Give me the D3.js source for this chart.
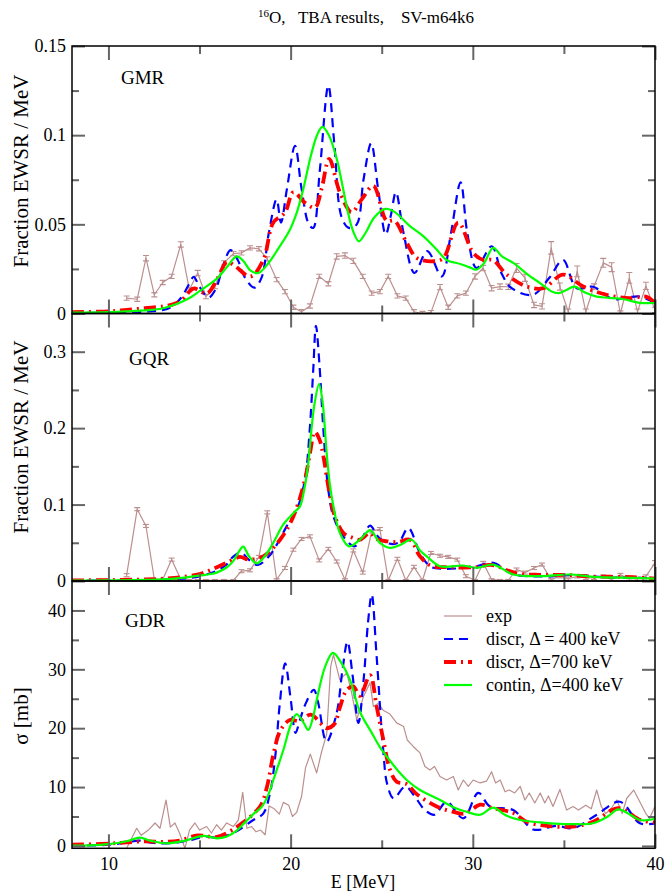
<!DOCTYPE html>
<html><head><meta charset="utf-8">
<script src="https://cdn.jsdelivr.net/npm/d3@7"></script>
<style>
body{margin:0;background:#fff}
text{font-family:"Liberation Serif","Times New Roman",serif;fill:#000}
</style>
</head><body>
<svg id="c" width="666" height="893"></svg>
<script>
// ---------- DATA ----------
const xTickValues = [10,20,30,40];
const xMinorValues = [15,25,35];
const xTickLabels = ["10","20","30","40"];

const gmrYMajor = [0,0.05,0.1,0.15];
const gmrYLabels = ["0","0.05","0.1","0.15"];
const gmrYMinor = [0.025,0.075,0.125];
const gqrYMajor = [0,0.1,0.2,0.3];
const gqrYLabels = ["0","0.1","0.2","0.3"];
const gqrYMinor = [0.05,0.15,0.25];
const gdrYMajor = [0,10,20,30,40];
const gdrYLabels = ["0","10","20","30","40"];
const gdrYMinor = [5,15,25,35];

const legendLabels = ["exp","discr, \u0394 = 400 keV","discr, \u0394=700 keV","contin, \u0394=400 keV"];

// experimental energy grid (GMR, GQR)
const expGridE = [11.0,11.58,12.06,12.52,12.98,13.47,13.97,14.44,14.9,15.35,15.85,16.34,16.86,17.3,17.77,18.26,18.72,19.23,19.69,20.15,20.6,21.06,21.57,22.07,22.53,22.98,23.44,23.96,24.45,24.9,25.36,25.86,26.32,26.77,27.24,27.7,28.2,28.65,29.15,29.62,30.12,30.57,31.03,31.49,31.95,32.4,32.86,33.36,33.8,34.3,34.78,35.24,35.73,36.2,36.65,37.16,37.62,38.1,38.59,39.04,39.5,40.0];

// GMR
const gmrExpV = [0.0086,0.008,0.031,0.0105,0.0174,0.0208,0.0387,0.0133,0.0227,0.0095,0.0151,0.0284,0.0336,0.034,0.0368,0.0363,0.0306,0.019,0.0123,0.0035,0.001,0.0042,0.0208,0.0167,0.032,0.0325,0.0295,0.0208,0.0114,0.0123,0.0208,0.0099,0.0086,0.001,0.0,0.0005,0.0148,0.0035,0.0099,0.0114,0.0208,0.0255,0.0142,0.0151,0.015,0.0255,0.02,0.0048,0.004,0.0368,0.0151,0.001,0.0236,0.001,0.0151,0.0284,0.026,0.0,0.02,0.001,0.0155,0.002];
const gmrExpErr = [0.0012,0.0012,0.0015,0.0012,0.0012,0.0012,0.0015,0.0012,0.0015,0.0012,0.0012,0.0012,0.0012,0.0012,0.0012,0.0012,0.0012,0.0012,0.0012,0.0012,0.0012,0.0012,0.0012,0.0012,0.0015,0.0015,0.0015,0.0012,0.0012,0.0012,0.0012,0.0012,0.0012,0.0012,0.0012,0.0012,0.0015,0.0012,0.0012,0.0012,0.0015,0.0015,0.0015,0.0015,0.0015,0.0025,0.002,0.0015,0.0015,0.0035,0.002,0.0015,0.003,0.0015,0.0015,0.0025,0.0025,0.0015,0.003,0.0015,0.002,0.0015];
const gmrD400E = [8,10,12,13,13.5,14,14.4,14.68,15.0,15.5,15.9,16.3,16.7,17.1,17.5,18.0,18.4,18.8,19.23,19.47,19.8,20.24,20.6,21.0,21.24,21.6,22.07,22.4,22.8,23.2,23.63,24.0,24.42,24.8,25.22,25.5,25.78,26.2,26.8,27.5,28.29,28.8,29.33,29.7,30.2,31.03,31.6,32.13,33.3,34.2,34.95,35.7,36.6,37.7,38.5,39.17,40];
const gmrD400V = [0.0003,0.0004,0.001,0.002,0.004,0.009,0.016,0.0205,0.015,0.009,0.014,0.027,0.0355,0.030,0.020,0.0145,0.020,0.045,0.064,0.051,0.070,0.094,0.070,0.050,0.048,0.080,0.1278,0.095,0.054,0.048,0.050,0.075,0.0955,0.070,0.0443,0.055,0.068,0.045,0.0227,0.035,0.0208,0.045,0.0735,0.045,0.0255,0.0377,0.022,0.0142,0.0105,0.020,0.030,0.0142,0.015,0.008,0.009,0.0095,0.006];
const gmrD700E = [8,10,11,12,13,13.5,14.04,14.66,15.4,16.0,16.5,16.9,17.8,18.5,19.05,19.69,20.15,20.8,21.34,21.7,22.12,22.7,23.35,23.9,24.54,25.27,25.7,26.37,26.92,27.83,28.38,29.2,30.02,30.57,31.1,31.86,32.96,33.87,34.96,36.06,37.34,38.62,39.5,40];
const gmrD700V = [0.0008,0.0012,0.002,0.003,0.004,0.005,0.0076,0.014,0.0112,0.020,0.029,0.027,0.0208,0.030,0.051,0.0566,0.068,0.062,0.0594,0.070,0.0867,0.068,0.0568,0.064,0.0716,0.052,0.052,0.0397,0.0312,0.0293,0.031,0.051,0.034,0.030,0.030,0.0218,0.0151,0.0142,0.0218,0.0151,0.0105,0.0086,0.0095,0.006];
const gmrContE = [8,10,11,12,12.8,13.5,14,14.5,15,15.5,16,16.5,17.04,17.4,17.8,18.23,18.8,19.3,19.96,20.35,20.7,21.1,21.45,21.74,22.1,22.53,22.8,23.08,23.4,23.75,24.1,24.6,25.2,25.7,26.55,27.28,28.0,28.56,29.3,29.8,30.2,30.6,31.12,31.6,32.22,33.0,33.69,34.3,34.7,35.1,35.6,36.1,36.8,37.5,38.26,39.17,40];
const gmrContV = [0.0005,0.0008,0.0012,0.0018,0.0025,0.0045,0.0065,0.009,0.0125,0.016,0.02,0.026,0.032,0.0295,0.024,0.0227,0.0285,0.036,0.047,0.057,0.070,0.088,0.100,0.1046,0.100,0.0867,0.074,0.060,0.047,0.0405,0.045,0.054,0.0587,0.057,0.049,0.0434,0.036,0.030,0.0278,0.026,0.0246,0.028,0.0368,0.032,0.0284,0.022,0.017,0.0125,0.0114,0.013,0.0151,0.012,0.0095,0.0088,0.008,0.006,0.0059];

// GQR
const gqrExpV = [0.0076,0.094,0.072,0.002,0.002,0.028,0.002,0.001,0.001,0.001,0.001,0.001,0.001,0.0128,0.014,0.0315,0.0898,0.002,0.017,0.041,0.055,0.0584,0.027,0.042,0.0255,0.002,0.040,0.011,0.065,0.068,0.001,0.029,0.001,0.0185,0.001,0.0367,0.033,0.0315,0.028,0.0063,0.001,0.0237,0.002,0.001,0.001,0.015,0.011,0.017,0.0215,0.002,0.006,0.003,0.006,0.004,0.004,0.006,0.002,0.008,0.003,0.003,0.006,0.0237];
const gqrExpErr = [0.002,0.002,0.002,0.001,0.001,0.002,0.001,0.001,0.001,0.001,0.001,0.001,0.001,0.002,0.002,0.002,0.002,0.001,0.002,0.002,0.002,0.002,0.002,0.002,0.002,0.001,0.002,0.002,0.002,0.002,0.001,0.002,0.001,0.002,0.001,0.002,0.002,0.002,0.002,0.002,0.001,0.002,0.001,0.001,0.001,0.002,0.002,0.002,0.002,0.001,0.002,0.002,0.002,0.002,0.002,0.002,0.002,0.002,0.002,0.002,0.002,0.003];
const gqrD400E = [8,10,12,14,15,16,16.5,16.85,17.3,17.7,18.2,18.8,19.3,19.78,20.33,20.78,21.06,21.24,21.39,21.58,21.8,22.07,22.35,22.9,23.5,23.9,24.36,24.8,25.27,25.9,26.46,27.1,27.65,28.29,30.1,31.12,32.2,34,35.5,37.3,39.2,40];
const gqrD400V = [0.0003,0.0005,0.001,0.003,0.006,0.014,0.022,0.032,0.037,0.028,0.021,0.032,0.050,0.0715,0.093,0.132,0.2018,0.2757,0.334,0.284,0.1975,0.119,0.0845,0.058,0.0454,0.055,0.0724,0.058,0.0498,0.0498,0.0693,0.0367,0.0193,0.0159,0.019,0.0237,0.009,0.006,0.008,0.005,0.004,0.003];
const gqrD700E = [8,10,12,13,14,15,15.75,16.5,17.22,17.7,18.5,19.42,20.15,20.78,21.06,21.33,21.6,21.8,22.07,22.43,22.9,23.44,23.8,24.36,24.7,25.27,25.9,26.55,27.1,27.7,28.7,30.1,31.0,32.4,33.7,35,36.4,38.8,40];
const gqrD700V = [0.0008,0.0012,0.002,0.003,0.005,0.009,0.016,0.024,0.0315,0.028,0.0323,0.054,0.0845,0.132,0.167,0.195,0.184,0.163,0.1236,0.0845,0.0628,0.0563,0.054,0.0628,0.055,0.052,0.051,0.054,0.0323,0.020,0.018,0.018,0.021,0.010,0.008,0.008,0.006,0.005,0.003];
const gqrContE = [8,10,12,13,14,14.66,15.3,15.94,16.5,16.85,17.15,17.4,17.7,18.14,18.6,19.05,19.6,20.24,20.51,20.75,20.97,21.15,21.3,21.56,21.75,21.98,22.16,22.35,22.7,23.2,23.8,24.36,24.9,25.46,26.0,26.64,27.1,27.47,28.2,29.48,30.21,31.12,32.22,33.68,35.33,36.6,38.8,40];
const gqrContV = [0.0005,0.0008,0.0015,0.002,0.004,0.006,0.008,0.011,0.018,0.026,0.038,0.045,0.033,0.023,0.033,0.050,0.074,0.091,0.0975,0.12,0.155,0.20,0.23,0.2575,0.235,0.167,0.125,0.0975,0.063,0.0454,0.054,0.0662,0.050,0.0433,0.047,0.054,0.040,0.0323,0.0193,0.0202,0.0172,0.0215,0.0085,0.0063,0.0085,0.0054,0.004,0.003];

// GDR
const gdrExpE = [11.0,11.55,11.8,12.19,12.56,12.83,13.16,13.4,13.65,13.9,14.2,14.45,14.75,15.0,15.39,15.65,15.94,16.2,16.49,16.85,17.13,17.37,17.6,17.86,18.1,18.35,18.6,18.82,19.1,19.38,19.6,19.9,20.1,20.33,20.6,20.82,21.08,21.43,21.7,21.98,22.2,22.35,22.7,23.08,23.35,23.63,24.0,24.36,24.54,24.8,25.1,25.45,25.82,26.2,26.4,26.73,27.1,27.37,27.65,27.9,28.2,28.56,28.93,29.2,29.48,29.75,30.02,30.4,30.75,31.03,31.25,31.5,31.77,32.0,32.3,32.6,32.86,33.1,33.4,33.7,33.95,34.15,34.4,34.78,35.15,35.5,35.8,36.2,36.5,36.8,37.05,37.3,37.6,37.9,38.2,38.45,38.83,39.2,39.5,39.7,40];
const gdrExpV = [-0.4,3.0,1.8,2.7,3.9,3.0,7.8,3.2,3.9,2.2,-0.4,2.7,3.9,2.7,3.3,2.2,3.6,2.7,3.9,3.3,4.4,9.1,3.0,3.3,2.4,2.7,1.9,6.8,6.3,5.4,7.4,6.9,5.0,5.7,8.4,13.3,15.6,12.4,16.0,19.0,30.5,32.5,28.2,29.4,26.0,21.4,25.4,27.7,23.7,24.2,23.0,22.4,20.9,20.3,18.0,16.9,15.8,13.5,12.9,13.5,11.8,11.2,11.8,9.5,11.2,10.1,11.2,10.7,11.0,12.6,10.7,11.2,9.2,9.5,9.0,10.1,7.8,9.0,7.3,9.0,7.3,8.5,6.7,9.6,6.1,6.7,6.1,6.9,6.3,9.5,6.7,5.5,6.4,7.8,5.5,8.1,9.5,7.3,5.5,4.7,6.7];
const gdrD400E = [8,10,11,11.7,12.5,13.5,14.5,15.3,16.0,16.85,17.95,18.5,18.87,19.15,19.4,19.7,20.0,20.27,20.5,20.8,21.27,21.5,21.97,22.53,22.85,23.12,23.4,23.72,24.0,24.25,24.45,24.72,25.09,25.3,25.65,26.3,26.9,27.37,27.9,28.56,29.48,30.3,30.94,32.22,33.32,34.6,35.5,36.8,38.07,39.17,40];
const gdrD400V = [0.05,0.2,0.6,0.9,0.5,0.5,1.0,1.6,1.4,2.2,4.4,5.5,9.0,15.0,24.0,31.0,25.0,19.2,21.3,24.0,26.5,24.5,17.7,22.6,30.0,34.7,29.0,20.9,28.0,38.0,42.7,32.2,16.0,10.5,8.1,10.1,8.0,6.1,5.3,7.5,4.7,9.0,6.7,6.1,2.8,3.4,3.0,5.3,7.5,3.85,3.85];
const gdrD700E = [8,10,11,12,13,13.9,14.9,15.9,16.5,17.22,18.32,18.7,19.05,19.42,19.96,20.5,21.1,21.98,22.4,22.7,23.08,23.44,23.8,24.36,24.72,25.09,25.45,25.82,26.37,26.92,28.02,28.93,29.6,30.4,31.1,32.22,32.96,34.05,35.5,36.6,38.0,39.2,40];
const gdrD700V = [0.2,0.4,0.6,0.8,0.7,0.9,1.8,1.5,2.2,3.6,6.7,10.0,15.5,19.5,21.4,21.2,22.3,20.0,20.7,23.5,26.5,27.1,25.5,29.0,23.7,18.0,13.0,10.9,10.5,8.8,6.7,5.8,5.5,7.0,6.4,5.6,4.1,3.4,3.3,4.1,6.4,4.4,4.0];
const gdrContE = [8,9,10,11,11.73,12.3,13.2,14.2,15.2,15.94,16.5,17.04,17.5,17.95,18.4,18.75,19.05,19.6,20.0,20.33,20.7,20.97,21.2,21.43,21.9,22.32,22.8,23.26,23.8,24.4,24.9,25.5,26.0,26.37,27.1,28.2,29.0,29.66,30.4,31.12,31.8,32.6,33.7,34.5,35.5,36.6,37.4,37.98,38.6,39.17,40];
const gdrContV = [0.05,0.1,0.3,0.8,1.42,0.9,0.45,0.9,1.7,1.3,1.6,2.6,4.0,5.4,6.6,8.5,11.2,16.3,20.5,22.4,21.0,19.7,21.5,24.8,30.5,32.8,31.0,28.2,22.8,19.5,16.8,14.3,12.4,11.2,9.5,7.8,6.5,5.8,5.3,6.5,5.2,4.4,4.0,3.8,3.7,3.85,5.0,6.2,5.4,4.4,4.6];

// ---------- DRAWING ----------
const FONT = "'Liberation Serif','Times New Roman',serif";
const svg = d3.select("#c").attr("font-family",FONT);
const X0 = 72, X1 = 655;
const x = d3.scaleLinear().domain([8,40]).range([X0,X1]);
const zip = (E,V) => E.map((e,i)=>[e,V[i]]);

const styles = {
  exp:  {stroke:"#bc8f8f", width:1.2, dash:null},
  d400: {stroke:"#0000ff", width:2.2, dash:"9,6"},
  d700: {stroke:"#ff0000", width:3.8, dash:"12,5,2,5"},
  cont: {stroke:"#00ff00", width:2.2, dash:null}
};

const panels = [
  {label:"GMR", lx:121, ly:84, domain:[0,0.15], range:[313.5,46], major:gmrYMajor, labels:gmrYLabels, minor:gmrYMinor,
   ytitle:"Fraction EWSR / MeV", ty:171,
   series:[{k:"exp",d:zip(expGridE,gmrExpV),err:gmrExpErr},{k:"d400",d:zip(gmrD400E,gmrD400V)},{k:"d700",d:zip(gmrD700E,gmrD700V)},{k:"cont",d:zip(gmrContE,gmrContV)}]},
  {label:"GQR", lx:129, ly:365, domain:[0,0.35], range:[581,313.5], major:gqrYMajor, labels:gqrYLabels, minor:gqrYMinor,
   ytitle:"Fraction EWSR / MeV", ty:437,
   series:[{k:"exp",d:zip(expGridE,gqrExpV),err:gqrExpErr},{k:"d400",d:zip(gqrD400E,gqrD400V)},{k:"d700",d:zip(gqrD700E,gqrD700V)},{k:"cont",d:zip(gqrContE,gqrContV)}]},
  {label:"GDR", lx:125, ly:627, domain:[-0.4,45], range:[848.3,581], major:gdrYMajor, labels:gdrYLabels, minor:gdrYMinor,
   ytitle:"\u03c3 [mb]", ty:716, bottom:true,
   series:[{k:"exp",d:zip(gdrExpE,gdrExpV)},{k:"d400",d:zip(gdrD400E,gdrD400V)},{k:"d700",d:zip(gdrD700E,gdrD700V)},{k:"cont",d:zip(gdrContE,gdrContV)}]}
];

const TICKC = "#666";
panels.forEach((p,pi)=>{
  const y = d3.scaleLinear().domain(p.domain).range(p.range);
  const top = p.range[1], bot = p.range[0];
  const g = svg.append("g");
  const cid = "clip"+pi;
  svg.append("clipPath").attr("id",cid).append("rect")
     .attr("x",X0).attr("y",top).attr("width",X1-X0).attr("height",bot-top);

  const line = d3.line().x(d=>x(d[0])).y(d=>y(d[1])).curve(d3.curveCatmullRom.alpha(0.5));
  const lineLin = d3.line().x(d=>x(d[0])).y(d=>y(d[1]));
  const plot = g.append("g").attr("clip-path",`url(#${cid})`);
  p.series.forEach(s=>{
    const st = styles[s.k];
    plot.append("path").attr("d", s.k==="exp" ? lineLin(s.d) : line(s.d))
      .attr("fill","none").attr("stroke",st.stroke).attr("stroke-width",st.width)
      .attr("stroke-dasharray",st.dash).attr("stroke-linejoin","round");
    if (s.err) {
      const eb = plot.append("g").attr("stroke",st.stroke).attr("stroke-width",1.1);
      s.d.forEach((d,i)=>{
        const cx = x(d[0]), y1 = y(d[1]-s.err[i]), y2 = y(d[1]+s.err[i]);
        eb.append("line").attr("x1",cx).attr("x2",cx).attr("y1",y1).attr("y2",y2);
        eb.append("line").attr("x1",cx-3).attr("x2",cx+3).attr("y1",y1).attr("y2",y1);
        eb.append("line").attr("x1",cx-3).attr("x2",cx+3).attr("y1",y2).attr("y2",y2);
      });
    }
  });

  // ticks (inward)
  const styleAxis = sel => {
    sel.attr("font-family",FONT).attr("font-size",18);
    sel.selectAll("text").attr("font-family",FONT);
    sel.select(".domain").remove();
    sel.selectAll(".tick line").attr("stroke",TICKC).attr("stroke-width",2);
  };
  const lab = d => p.labels[p.major.indexOf(d)];
  g.append("g").attr("transform",`translate(${X0},0)`)
    .call(d3.axisLeft(y).tickValues(p.major).tickSize(-13).tickPadding(6).tickFormat(lab))
    .call(styleAxis);
  g.append("g").attr("transform",`translate(${X0},0)`)
    .call(d3.axisLeft(y).tickValues(p.minor).tickSize(-7).tickFormat("")).call(styleAxis);
  g.append("g").attr("transform",`translate(${X1},0)`)
    .call(d3.axisRight(y).tickValues(p.major).tickSize(-13).tickFormat("")).call(styleAxis);
  g.append("g").attr("transform",`translate(${X1},0)`)
    .call(d3.axisRight(y).tickValues(p.minor).tickSize(-7).tickFormat("")).call(styleAxis);
  g.append("g").attr("transform",`translate(0,${top})`)
    .call(d3.axisTop(x).tickValues(xTickValues).tickSize(-14).tickFormat("")).call(styleAxis);
  g.append("g").attr("transform",`translate(0,${top})`)
    .call(d3.axisTop(x).tickValues(xMinorValues).tickSize(-8).tickFormat("")).call(styleAxis);
  g.append("g").attr("transform",`translate(0,${bot})`)
    .call(d3.axisBottom(x).tickValues(xTickValues).tickSize(-14).tickPadding(9)
      .tickFormat(p.bottom ? (d=>xTickLabels[xTickValues.indexOf(d)]) : ""))
    .call(styleAxis);
  g.append("g").attr("transform",`translate(0,${bot})`)
    .call(d3.axisBottom(x).tickValues(xMinorValues).tickSize(-8).tickFormat("")).call(styleAxis);

  // frame
  g.append("rect").attr("x",X0).attr("y",top).attr("width",X1-X0).attr("height",bot-top)
    .attr("fill","none").attr("stroke","#000").attr("stroke-width",1.5);

  // panel label
  g.append("text").attr("x",p.lx).attr("y",p.ly).style("font-size","19px").text(p.label);
  // y title
  g.append("text").attr("transform",`translate(28,${p.ty}) rotate(-90)`).attr("text-anchor","middle")
    .style("font-size","21px").text(p.ytitle);

  if (p.bottom) {
    const keys = ["exp","d400","d700","cont"];
    const lg = g.append("g");
    keys.forEach((k,i)=>{
      const st = styles[k];
      const yy = 616 + i*23;
      lg.append("line").attr("x1",444).attr("x2",472).attr("y1",yy).attr("y2",yy)
        .attr("stroke",st.stroke).attr("stroke-width",st.width).attr("stroke-dasharray",st.dash);
      lg.append("text").attr("x",486).attr("y",yy+6).style("font-size","18px").text(legendLabels[i]);
    });
  }
});

// title
const t = svg.append("text").attr("x",366).attr("y",23).attr("text-anchor","middle")
  .style("font-size","17px").attr("xml:space","preserve").style("white-space","pre");
t.append("tspan").style("font-size","11px").attr("dy","-6").text("16");
t.append("tspan").attr("dy","6").text("O,   TBA results,    SV-m64k6");

// x title
svg.append("text").attr("x",363).attr("y",888).attr("text-anchor","middle").style("font-size","18px").text("E [MeV]");
</script>
</body></html>
